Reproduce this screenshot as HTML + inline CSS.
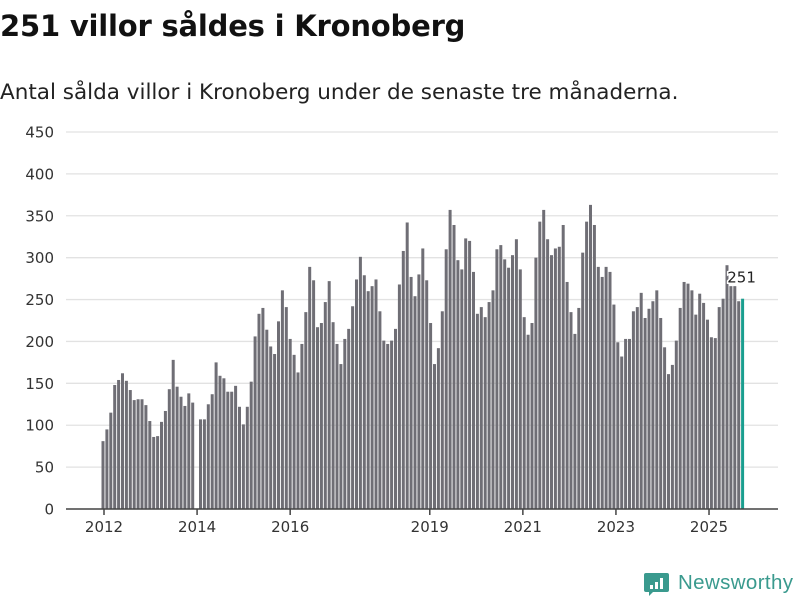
<!DOCTYPE html>
<html><head><meta charset="utf-8">
<style>
body{margin:0;background:#fff;width:800px;height:600px;overflow:hidden;font-family:"DejaVu Sans","Liberation Sans",sans-serif;}
#title{position:absolute;left:0;top:9px;font-size:29px;font-weight:bold;color:#111;margin:0;letter-spacing:-0.2px;font-family:"DejaVu Sans","Liberation Sans",sans-serif;}
#sub{position:absolute;left:0;top:80px;font-size:21.5px;color:#222;margin:0;font-family:"DejaVu Sans","Liberation Sans",sans-serif;}
svg{position:absolute;left:0;top:0;}
</style></head><body>
<h1 id="title">251 villor såldes i Kronoberg</h1>
<p id="sub">Antal sålda villor i Kronoberg under de senaste tre månaderna.</p>
<svg id="chart" width="800" height="600"></svg>
<script>
const startYear = 2012;
const values = [
81,95,115,148,154,162,153,142,130,131,131,124,
105,86,87,104,117,143,178,146,134,123,138,127,
null,107,107,125,137,175,159,156,140,140,147,122,
101,122,152,206,233,240,214,194,185,224,261,241,
203,184,163,197,235,289,273,217,222,247,272,223,
197,173,203,215,242,274,301,279,260,266,274,236,
201,197,201,215,268,308,342,277,254,280,311,273,
222,173,192,236,310,357,339,297,286,323,320,283,
233,241,229,247,261,310,315,298,288,303,322,286,
229,208,222,300,343,357,322,303,311,313,339,271,
235,209,240,306,343,363,339,289,277,289,283,244,
199,182,203,203,236,241,258,228,239,248,261,228,
193,161,172,201,240,271,269,261,232,257,246,226,
205,204,241,251,291,266,266,248,251
];
const yTicks = [0,50,100,150,200,250,300,350,400,450];
const xTickYears = [2012,2014,2016,2019,2021,2023,2025];
const lastLabel = "251";

const NS='http://www.w3.org/2000/svg';
const svg=document.getElementById('chart');
const y0=509, yTop=132, yMax=450;
const yScale=v=>y0-(v/yMax)*(y0-yTop);
const xYear=t=>104+(t-startYear)*46.54;
const xIdx=i=>103+i*3.9;
function mk(tag,attrs){const e=document.createElementNS(NS,tag);for(const k in attrs)e.setAttribute(k,attrs[k]);svg.appendChild(e);return e;}
const FF='DejaVu Sans, Liberation Sans, sans-serif';
yTicks.forEach(v=>{
  const g=mk('line',{x1:66,x2:778,y1:yScale(v),y2:yScale(v),stroke:'#e2e2e2','stroke-width':1.3});
  
  
  const t=mk('text',{x:54,y:yScale(v)+5.5,'text-anchor':'end','font-size':15,fill:'#333','font-family':FF});
  t.textContent=v;
  
  
});
const bw=3.0;
values.forEach((v,i)=>{
  if(v==null)return;
  const last=i===values.length-1;
  const r=mk('rect',{x:xIdx(i)-bw/2,y:yScale(v),width:bw,height:y0-yScale(v),fill:last?'#1a9e8f':'#6f6e75'});
  
  
});
const ax=mk('line',{x1:66,x2:778,y1:y0,y2:y0,stroke:'#444','stroke-width':1.5});


xTickYears.forEach(yr=>{
  const x=xYear(yr);
  const tk=mk('line',{x1:x,x2:x,y1:y0,y2:y0+6,stroke:'#444','stroke-width':1.5});
  
  
  const t=mk('text',{x:x,y:y0+23,'text-anchor':'middle','font-size':15,fill:'#333','font-family':FF});
  t.textContent=yr;
  
  
});
const li=values.length-1;
const lb=mk('text',{x:xIdx(li)-1,y:yScale(values[li])-16,'text-anchor':'middle','font-size':15,fill:'#222',stroke:'#fff','stroke-width':3,'paint-order':'stroke','font-family':FF});
lb.textContent=lastLabel;


// logo
const lg=mk('g',{});


const ic=document.createElementNS(NS,'path');
ic.setAttribute('d','M646 573 h21 a2 2 0 0 1 2 2 v15 a2 2 0 0 1 -2 2 h-14 l-4 4 v-4 h-3 a2 2 0 0 1 -2 -2 v-15 a2 2 0 0 1 2 -2z');
ic.setAttribute('fill','#3a9a8e');
lg.appendChild(ic);
[[650,585,3,4],[655,582,3,7],[660,578,3,11]].forEach(b=>{const r=document.createElementNS(NS,'rect');r.setAttribute('x',b[0]);r.setAttribute('y',b[1]);r.setAttribute('width',b[2]);r.setAttribute('height',b[3]);r.setAttribute('fill','#fff');lg.appendChild(r);});
const lt=document.createElementNS(NS,'text');
lt.setAttribute('x',678);lt.setAttribute('y',589);lt.setAttribute('font-size',20.5);lt.setAttribute('fill','#3a9a8e');lt.setAttribute('font-family','Liberation Sans, sans-serif');
lt.setAttribute('textLength',115);
lt.textContent='Newsworthy';
lg.appendChild(lt);
</script>
</body></html>
